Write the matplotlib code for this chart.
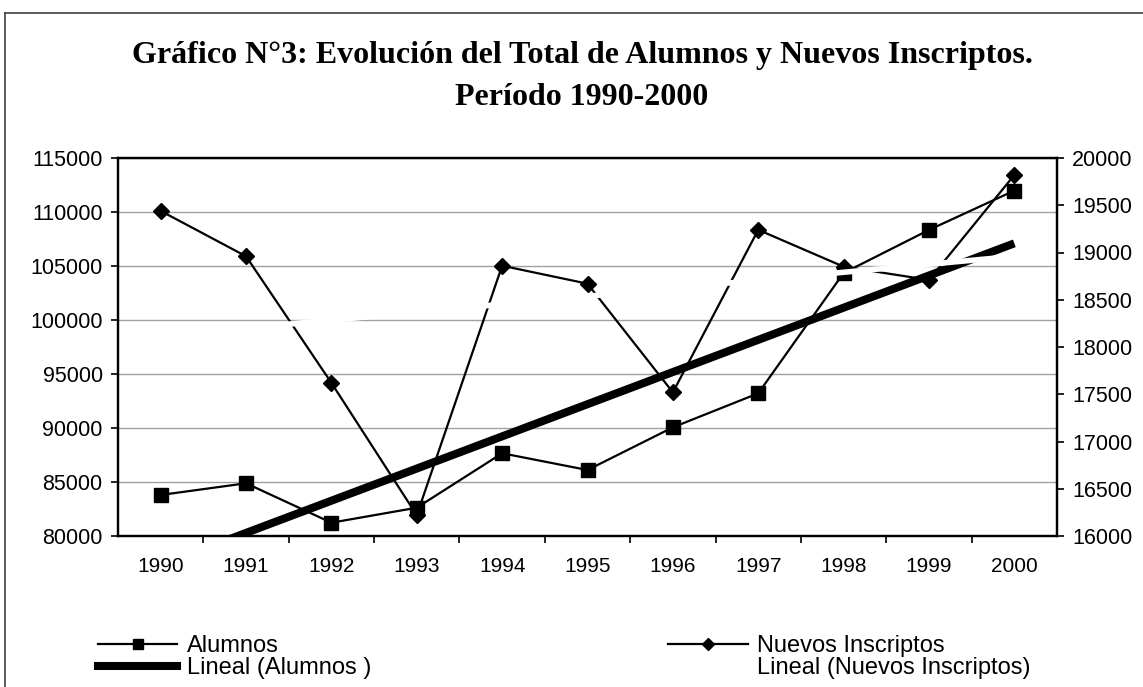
import matplotlib.pyplot as plt
import numpy as np
from matplotlib.lines import Line2D

plt.rcParams['font.family'] = ['Liberation Sans', 'DejaVu Sans']

# Datos
years = ['1990', '1991', '1992', '1993', '1994', '1995', '1996', '1997', '1998', '1999', '2000']
alumnos = [83800, 84880, 81230, 82620, 87660, 86110, 90060, 93210, 104350, 108340, 111980]
nuevos = [19440, 18960, 17620, 16220, 18860, 18670, 17520, 19240, 18850, 18710, 19820]

left_ticks = [80000, 85000, 90000, 95000, 100000, 105000, 110000, 115000]
right_ticks = [16000, 16500, 17000, 17500, 18000, 18500, 19000, 19500, 20000]

x = np.arange(len(years))

# tendencias lineales (como Excel)
pa = np.polyfit(x, alumnos, 1)
pn = np.polyfit(x, nuevos, 1)

W, H = 1143, 687
fig = plt.figure(figsize=(W / 100, H / 100), dpi=100)
ax = fig.add_axes([118 / W, 1 - 536 / H, (1057 - 118) / W, (536 - 158) / H])
ax2 = ax.twinx()

ax.set_ylim(80000, 115000)
ax2.set_ylim(16000, 20000)
ax.set_xlim(-0.5, len(years) - 0.5)

# grilla
for v in left_ticks:
    ax.axhline(v, color='#a0a0a0', lw=1.0, zorder=0)

ax.plot(x, alumnos, color='black', lw=1.6, marker='s', ms=9.5, zorder=3)
ax2.plot(x, nuevos, color='black', lw=1.6, marker='D', ms=8.5, zorder=3)
# la tendencia de alumnos se dibuja en ax2 para que quede encima de las series
ax2.plot(x, (np.polyval(pa, x) - 80000) / 8.75 + 16000, color='black', lw=5.8,
         solid_capstyle='butt', zorder=4)
ax2.plot(x, np.polyval(pn, x), color='white', lw=4.0, solid_capstyle='butt', zorder=5)

# ejes
for a in (ax, ax2):
    for s in a.spines.values():
        s.set_linewidth(1.6)
        s.set_color('black')

ax.set_yticks(left_ticks)
ax2.set_yticks(right_ticks)
ax.tick_params(axis='y', labelsize=15.5, length=5, width=1.2, pad=6)
ax2.tick_params(axis='y', labelsize=15.5, length=5, width=1.2, pad=6)

ax.set_xticks(np.arange(len(years) - 1) + 0.5)
ax.set_xticklabels([])
ax.set_xticks(x, minor=True)
ax.set_xticklabels(years, minor=True)
ax.tick_params(axis='x', which='major', length=5, width=1.2)
ax.tick_params(axis='x', which='minor', length=0, labelsize=15, pad=15)

# titulo
fig.text(582 / W, 1 - 63 / H, 'Gráfico N°3: Evolución del Total de Alumnos y Nuevos Inscriptos.',
         ha='center', va='baseline', fontsize=23, fontweight='bold', family='Liberation Serif')
fig.text(582 / W, 1 - 105 / H, 'Período 1990-2000',
         ha='center', va='baseline', fontsize=23, fontweight='bold', family='Liberation Serif')

# leyenda
h1 = Line2D([], [], color='black', lw=1.6, marker='s', ms=7)
h2 = Line2D([], [], color='black', lw=5.8)
h3 = Line2D([], [], color='black', lw=1.6, marker='D', ms=6.5)
h4 = Line2D([], [], color='white', lw=4.0)
fig.legend([h1, h2, h3, h4],
           ['Alumnos', 'Lineal (Alumnos )', 'Nuevos Inscriptos', 'Lineal (Nuevos Inscriptos)'],
           ncol=2, loc='upper left', bbox_to_anchor=(98 / W, 1 - 635 / H),
           frameon=False, fontsize=17, handlelength=3.35, handletextpad=0.4,
           columnspacing=12.6, labelspacing=0.0, borderpad=0, borderaxespad=0)

# borde del grafico (recortado a la derecha y abajo)
fig.add_artist(Line2D([4.5 / W, 4.5 / W], [0, 1 - 13 / H], color='#404040', lw=1.2,
                      transform=fig.transFigure))
fig.add_artist(Line2D([4.5 / W, 1], [1 - 13 / H, 1 - 13 / H], color='#404040', lw=1.2,
                      transform=fig.transFigure))

plt.savefig('out.png', dpi=100)
